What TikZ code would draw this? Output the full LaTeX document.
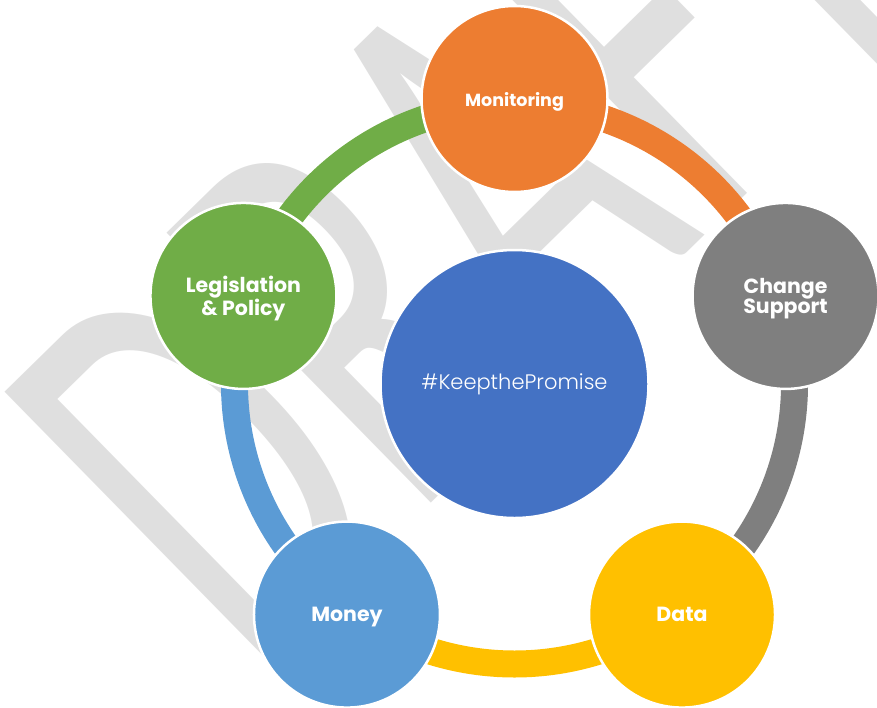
\documentclass[tikz,border=0pt]{standalone}
\usepackage{fontspec}
\setmainfont{Poppins}
\newfontfamily\hashfont{Poppins Light}
\newfontfamily\markfont{Carlito}
\usetikzlibrary{calc}

\definecolor{cOrange}{HTML}{ED7D31}
\definecolor{cGray}{HTML}{7F7F7F}
\definecolor{cYellow}{HTML}{FFC000}
\definecolor{cSky}{HTML}{5B9BD5}
\definecolor{cGreen}{HTML}{70AD47}
\definecolor{cBlue}{HTML}{4472C4}
\definecolor{cMark}{HTML}{DFDFDF}

\begin{document}
\begin{tikzpicture}[x=1pt,y=-1pt,
  spoke/.style={circle, minimum size=186pt, inner sep=0pt, draw=white,
    line width=2.5pt, text=white, align=center, text depth=0pt,
    font=\bfseries\fontsize{20.5}{20.6}\selectfont},
  hubstyle/.style={circle, minimum size=268pt, inner sep=0pt, draw=white,
    line width=2.5pt, fill=cBlue, text=white,
    font=\hashfont\fontsize{21}{21}\selectfont},
  link/.style={line width=27pt},
  watermark/.style={anchor=base west, inner sep=0pt, text=cMark,
    font=\markfont\fontsize{372}{372}\selectfont}
]
\useasboundingbox (0,0) rectangle (877,707);
\clip (0,0) rectangle (877,707);

% background watermark
\node[watermark, rotate=44.4, xscale=0.985, yscale=1.583] (mark) at (251.7,679.4) {DRAFT};

% ring centre and the points where the ring passes each spoke
\coordinate (O) at (514.5,384);
\coordinate (r1) at ($(O)+(-90:280)$);
\coordinate (r2) at ($(O)+(-18:280)$);
\coordinate (r3) at ($(O)+(54:280)$);
\coordinate (r4) at ($(O)+(126:280)$);
\coordinate (r5) at ($(O)+(198:280)$);

% coloured ring segments
\draw[link, cOrange] (r1) arc[start angle=-90, end angle=-18, radius=280];
\draw[link, cGray]   (r2) arc[start angle=-18, end angle=54,  radius=280];
\draw[link, cYellow] (r3) arc[start angle=54,  end angle=126, radius=280];
\draw[link, cSky]    (r4) arc[start angle=126, end angle=198, radius=280];
\draw[link, cGreen]  (r5) arc[start angle=198, end angle=270, radius=280];

% hub and spokes
\node[hubstyle] (hub) at (O) {\#KeepthePromise};
\node[spoke, fill=cOrange, font=\bfseries\fontsize{17.5}{18}\selectfont]
  (mon) at ($(O)+(-90:285)$) {Monitoring};
\node[spoke, fill=cGray]   (chg) at ($(O)+(-18:285)$) {Change\\Support};
\node[spoke, fill=cYellow] (dat) at ($(O)+(54:285)$)  {Data};
\node[spoke, fill=cSky]    (mny) at ($(O)+(126:285)$) {Money};
\node[spoke, fill=cGreen]  (leg) at ($(O)+(198:285)$) {Legislation\\\& Policy};
\end{tikzpicture}
\end{document}
